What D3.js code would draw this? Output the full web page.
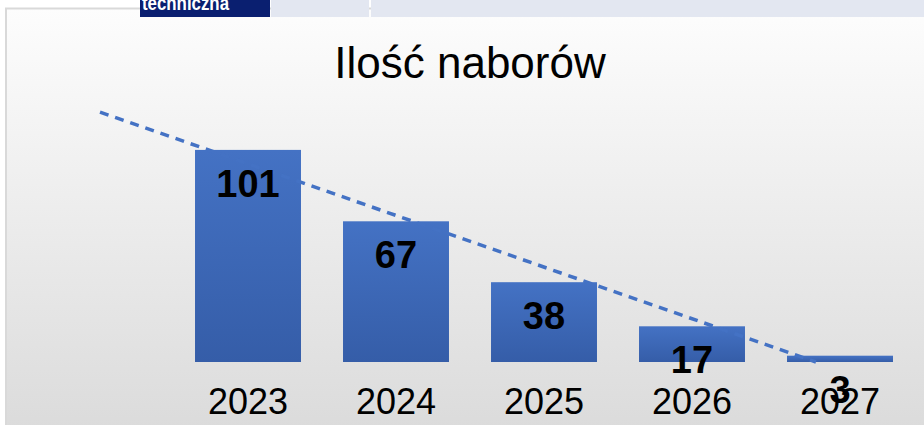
<!DOCTYPE html>
<html>
<head>
<meta charset="utf-8">
<script src="https://cdn.jsdelivr.net/npm/d3@7"></script>
<style>
    body { margin: 0; background: #ffffff; }
    svg { display: block; }
</style>
</head>
<body>
<script>
// chart data
var years = ["2023", "2024", "2025", "2026", "2027"];
var counts = [101, 67, 38, 17, 3];
var title = "Ilość naborów";
var headerText = "techniczna";

var W = 924, H = 425;
var font = "'Liberation Sans', Arial, sans-serif";

var svg = d3.select("body").append("svg")
    .attr("width", W)
    .attr("height", H);

var defs = svg.append("defs");

// background of the chart area, light at top, grey at bottom
var bg = defs.append("linearGradient")
    .attr("id", "bgGrad")
    .attr("x1", 0).attr("y1", 0).attr("x2", 0).attr("y2", 1);
bg.append("stop").attr("offset", "0%").attr("stop-color", "#fdfdfd");
bg.append("stop").attr("offset", "100%").attr("stop-color", "#dadada");

var barGrad = defs.append("linearGradient")
    .attr("id", "barGrad")
    .attr("x1", 0).attr("y1", 0).attr("x2", 0).attr("y2", 1);
barGrad.append("stop").attr("offset", "0%").attr("stop-color", "#4472c4");
barGrad.append("stop").attr("offset", "100%").attr("stop-color", "#355da8");

svg.append("rect")
    .attr("x", 6).attr("y", 8.5)
    .attr("width", W + 10).attr("height", H + 10)
    .attr("fill", "url(#bgGrad)")
    .attr("stroke", "#d9d9d9")
    .attr("stroke-width", 2);

// header strip above the chart (part of the slide)
svg.append("rect")
    .attr("x", 140).attr("y", 0)
    .attr("width", 130).attr("height", 17)
    .attr("fill", "#0a1f70");
svg.append("text")
    .attr("x", 142).attr("y", 10)
    .attr("fill", "#ffffff")
    .attr("font-family", "'Liberation Sans Narrow', " + font)
    .attr("font-weight", "bold")
    .attr("font-size", "20px")
    .attr("textLength", 87)
    .attr("lengthAdjust", "spacingAndGlyphs")
    .text(headerText);
svg.append("rect")
    .attr("x", 271).attr("y", 0)
    .attr("width", 98).attr("height", 17)
    .attr("fill", "#e3e7f1");
svg.append("rect")
    .attr("x", 371).attr("y", 0)
    .attr("width", W - 371).attr("height", 17)
    .attr("fill", "#e3e7f1");

// title
svg.append("text")
    .attr("x", 470).attr("y", 78)
    .attr("text-anchor", "middle")
    .attr("font-family", font)
    .attr("font-size", "44px")
    .attr("fill", "#000")
    .text(title);

// scales
var xScale = d3.scaleBand()
    .domain(years)
    .range([174, 914])
    .paddingInner(0.284)
    .paddingOuter(0.142);
var yScale = d3.scaleLinear().domain([0, 120]).range([362, 110]);

// bars
svg.selectAll("rect.bar")
    .data(counts)
    .enter()
    .append("rect")
    .attr("class", "bar")
    .attr("x", function(d, i) { return xScale(years[i]); })
    .attr("y", function(d) { return yScale(d); })
    .attr("width", xScale.bandwidth())
    .attr("height", function(d) { return yScale(0) - yScale(d); })
    .attr("fill", "url(#barGrad)");

// linear trend line (least squares), one period backward, cut at zero
var n = counts.length;
var mx = d3.mean(counts, function(d, i) { return i; });
var my = d3.mean(counts);
var sxy = d3.sum(counts, function(d, i) { return (i - mx) * (d - my); });
var sxx = d3.sum(counts, function(d, i) { return (i - mx) * (i - mx); });
var slope = sxy / sxx;
var icpt = my - slope * mx;
var iZero = -icpt / slope;

var xIdx = d3.scaleLinear()
    .domain([0, n - 1])
    .range([xScale(years[0]) + xScale.bandwidth() / 2,
            xScale(years[n - 1]) + xScale.bandwidth() / 2]);

var trend = [-1, Math.min(iZero, n - 1)];
var line = d3.line()
    .x(function(i) { return xIdx(i); })
    .y(function(i) { return yScale(icpt + slope * i); });

svg.append("path")
    .datum(trend)
    .attr("d", line)
    .attr("fill", "none")
    .attr("stroke", "#4472c4")
    .attr("stroke-width", 3.5)
    .attr("stroke-dasharray", "9,7");

// value labels
svg.selectAll("text.val")
    .data(counts)
    .enter()
    .append("text")
    .attr("class", "val")
    .attr("x", function(d, i) {
        return xScale(years[i]) + xScale.bandwidth() / 2;
    })
    .attr("y", function(d) { return yScale(d) + 47; })
    .attr("text-anchor", "middle")
    .attr("font-family", font)
    .attr("font-weight", "bold")
    .attr("font-size", "38px")
    .attr("fill", "#000")
    .text(function(d) { return d; });

// category axis, no line or ticks
var xAxis = d3.axisBottom(xScale).tickSize(0).tickPadding(0);
var gx = svg.append("g")
    .attr("transform", "translate(0,362)")
    .call(xAxis);
gx.select(".domain").remove();
gx.selectAll("text")
    .attr("font-family", font)
    .attr("font-size", "36px")
    .attr("fill", "#000")
    .attr("dy", null)
    .attr("y", 52);
</script>
</body>
</html>
